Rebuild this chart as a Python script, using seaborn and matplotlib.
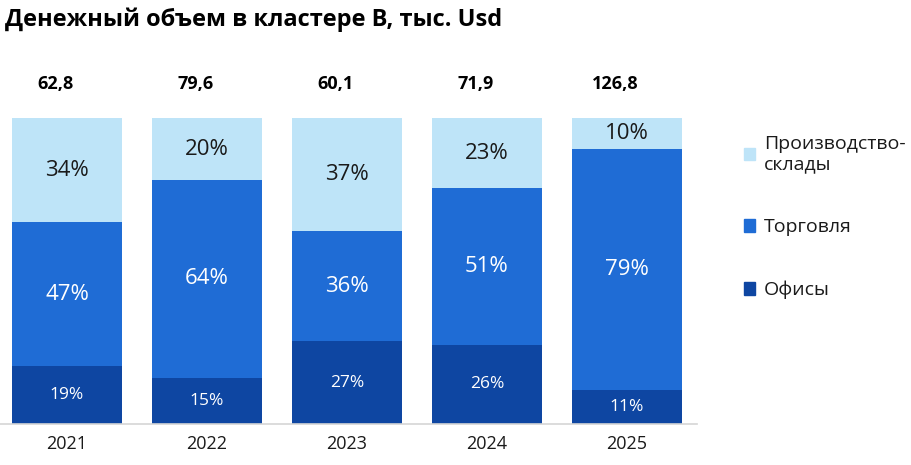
import numpy as np
import pandas as pd
import matplotlib
matplotlib.use('Agg')
import matplotlib.pyplot as plt
from matplotlib.patches import Patch
import seaborn as sns

sns.set_style('white')
plt.rcParams['font.family'] = ['Open Sans', 'DejaVu Sans']

years = ['2021', '2022', '2023', '2024', '2025']
totals = ['62,8', '79,6', '60,1', '71,9', '126,8']
offices = np.array([19, 15, 27, 26, 11])
trade = np.array([47, 64, 36, 51, 79])
warehouses = np.array([34, 20, 37, 23, 10])
series_names = ['Производство-\nсклады', 'Торговля', 'Офисы']

c_light = '#BEE4F8'
c_mid = '#1F6CD5'
c_dark = '#0E46A2'

# normalise to full 100 so every bar has the same height
s = offices + trade + warehouses
off_n = offices / s * 100
tr_n = trade / s * 100
wh_n = warehouses / s * 100

df = pd.DataFrame({'year': years,
                   'top': off_n + tr_n + wh_n,
                   'mid': off_n + tr_n,
                   'bot': off_n})

fig = plt.figure(figsize=(9.11, 4.65), dpi=100)
ax = fig.add_axes([0.0, 0.088, 0.765, 0.658])

w = 110 / 140
for col, c in [('top', c_light), ('mid', c_mid), ('bot', c_dark)]:
    sns.barplot(data=df, x='year', y=col, color=c, saturation=1, width=w,
                linewidth=0, ax=ax)

for i in range(len(years)):
    ax.text(i, off_n[i] / 2, f'{offices[i]}%', ha='center', va='center',
            color='white', fontsize=12.5)
    ax.text(i, off_n[i] + tr_n[i] / 2, f'{trade[i]}%', ha='center', va='center',
            color='white', fontsize=16)
    ax.text(i, off_n[i] + tr_n[i] + wh_n[i] / 2, f'{warehouses[i]}%', ha='center',
            va='center', color='#1a1a1a', fontsize=16)
    ax.text(i - 0.08, 111, totals[i], ha='center', va='center', fontsize=13,
            fontweight='bold', color='black', clip_on=False)

ax.set_xlim(-0.479, 4.5)
ax.set_ylim(0, 100)
ax.set_xlabel('')
ax.set_ylabel('')
ax.set_yticks([])
ax.tick_params(axis='x', length=0, labelsize=13, pad=8, colors='#1a1a1a')
for sp in ['top', 'right', 'left']:
    ax.spines[sp].set_visible(False)
ax.spines['bottom'].set_color('#D5D5D5')
ax.spines['bottom'].set_linewidth(1.2)

handles = [Patch(color=c_light), Patch(color=c_mid), Patch(color=c_dark)]
leg = fig.legend(handles, series_names, loc='upper left', bbox_to_anchor=(0.797, 0.748),
                 frameon=False, fontsize=14, handlelength=0.6, handleheight=0.6,
                 handletextpad=0.45, labelspacing=2.3, labelcolor='#1a1a1a')

fig.text(0.006, 0.958, 'Денежный объем в кластере B, тыс. Usd', fontsize=17,
         fontweight='bold', ha='left', va='center', color='black')

fig.savefig('out.png', dpi=100)
